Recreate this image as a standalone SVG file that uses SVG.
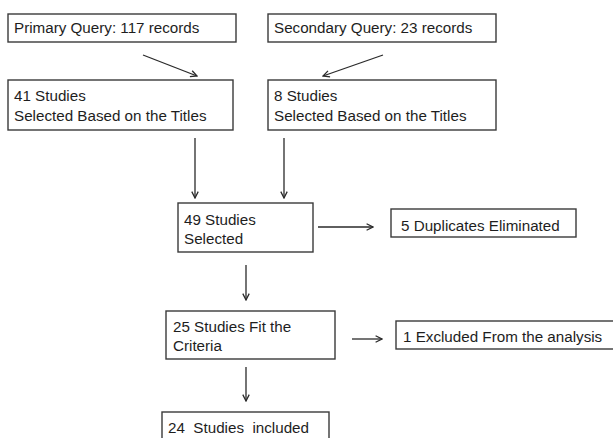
<svg xmlns="http://www.w3.org/2000/svg" width="613" height="438" viewBox="0 0 613 438">
<style>
.box{fill:#fff;stroke:#3a3a3a;stroke-width:1.4}
.t{font-family:"Liberation Sans",Arial,sans-serif;font-size:15.2px;fill:#1e1e1e}
.c{stroke:#2a2a2a;stroke-width:1.3;fill:none;marker-end:url(#ah)}
</style>
<defs>
<marker id="ah" viewBox="0 0 10 10" refX="9" refY="5" markerWidth="8" markerHeight="8" markerUnits="userSpaceOnUse" orient="auto">
<path d="M1,1 L9,5 L1,9" fill="none" stroke="#2a2a2a" stroke-width="1.6"/>
</marker>
</defs>
<rect width="613" height="438" fill="#fff"/>
<g id="connectors">
<line class="c" x1="143" y1="55" x2="197" y2="76"/>
<line class="c" x1="383" y1="55" x2="323" y2="76"/>
<line class="c" x1="195" y1="138" x2="195" y2="198"/>
<line class="c" x1="284" y1="138" x2="284" y2="198"/>
<line class="c" x1="318" y1="227" x2="373" y2="227"/>
<line class="c" x1="246" y1="265" x2="246" y2="300"/>
<line class="c" x1="352" y1="339" x2="382" y2="339"/>
<line class="c" x1="246" y1="367" x2="246" y2="401"/>
</g>
<g id="n1"><rect class="box" x="8" y="14" width="228" height="28"/><text class="t" x="14" y="33">Primary Query: 117 records</text></g>
<g id="n2"><rect class="box" x="268" y="14" width="228" height="28"/><text class="t" x="274" y="33">Secondary Query: 23 records</text></g>
<g id="n3"><rect class="box" x="8" y="80" width="225" height="50"/><text class="t" x="14" y="101">41 Studies</text><text class="t" x="14" y="121">Selected Based on the Titles</text></g>
<g id="n4"><rect class="box" x="268" y="80" width="228" height="50"/><text class="t" x="274" y="101">8 Studies</text><text class="t" x="274" y="121">Selected Based on the Titles</text></g>
<g id="n5"><rect class="box" x="178" y="203" width="135" height="49"/><text class="t" x="184" y="225">49 Studies</text><text class="t" x="184" y="244">Selected</text></g>
<g id="n6"><rect class="box" x="391" y="209" width="185" height="28"/><text class="t" x="401" y="231">5 Duplicates Eliminated</text></g>
<g id="n7"><rect class="box" x="166" y="311" width="169" height="48"/><text class="t" x="173" y="332">25 Studies Fit the</text><text class="t" x="173" y="351">Criteria</text></g>
<g id="n8"><rect class="box" x="396" y="321" width="230" height="28"/><text class="t" x="403" y="342">1 Excluded From the analysis</text></g>
<g id="n9"><rect class="box" x="162" y="412" width="167" height="40"/><text class="t" x="168" y="433" xml:space="preserve">24  Studies  included</text></g>
</svg>
